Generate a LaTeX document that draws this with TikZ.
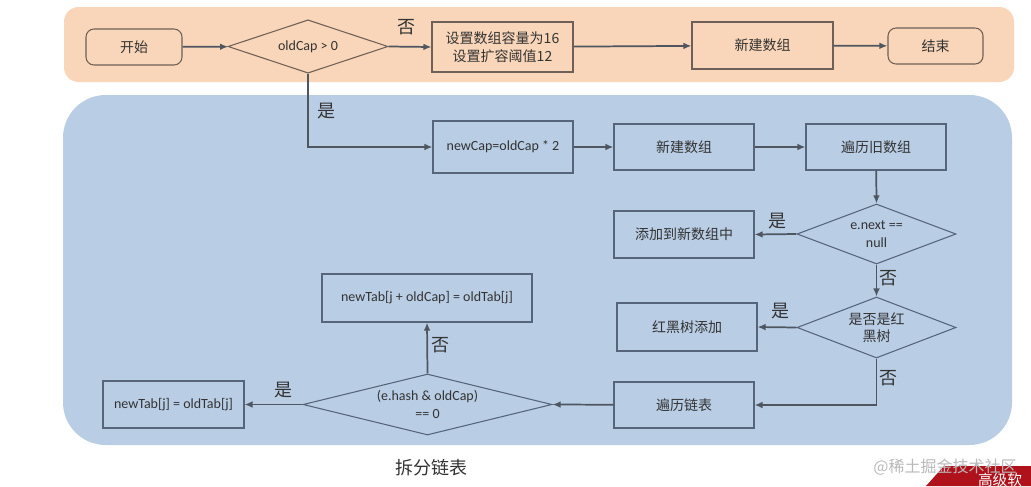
\documentclass[tikz,border=0pt]{standalone}
\usepackage{fontspec}
\setmainfont{Carlito}
\newfontfamily\cjk{Noto Sans CJK SC}
\usetikzlibrary{shapes.geometric,arrows.meta}
\definecolor{orangebg}{HTML}{F9D6B9}
\definecolor{bluebg}{HTML}{B9CDE5}
\definecolor{obord}{HTML}{6E6058}
\definecolor{bbord}{HTML}{56657A}
\definecolor{arr}{HTML}{4F5660}
\definecolor{txt}{HTML}{333333}
\definecolor{logored}{HTML}{B0121B}
\begin{document}
\begin{tikzpicture}[x=0.75pt,y=-0.75pt,
  every node/.style={text=txt,font=\fontsize{10.5}{13}\selectfont},
  obox/.style={draw=obord,line width=0.8pt,fill=orangebg,align=center,inner sep=0pt},
  oround/.style={obox,rounded corners=6pt},
  bbox/.style={draw=bbord,line width=0.8pt,fill=bluebg,align=center,inner sep=0pt},
  odia/.style={draw=obord,line width=0.8pt,fill=orangebg,diamond,inner sep=0pt,align=center},
  bdia/.style={draw=bbord,line width=0.8pt,fill=bluebg,diamond,inner sep=0pt,align=center},
  flow/.style={draw=arr,line width=1.3pt,-{Latex[length=6pt,width=5pt]}},
  lbl/.style={font=\cjk\fontsize{13.5}{15}\selectfont,text=txt}]
\useasboundingbox (0,0) rectangle (1031,486);
\fill[white] (0,0) rectangle (1031,486);
% backgrounds
\fill[orangebg,rounded corners=11pt] (64,7) rectangle (1014,82);
\fill[bluebg,rounded corners=32pt] (63,95) rectangle (1012,445);
% top row
\node[oround,minimum width=72pt,minimum height=27pt] (start) at (134,47) {\cjk 开始};
\node[odia,minimum width=120pt,minimum height=40pt,aspect=3] (d1) at (308,46.5) {oldCap > 0};
\node[obox,minimum width=105.75pt,minimum height=37.5pt] (set) at (502.5,47) {\cjk 设置数组容量为16\\\cjk 设置扩容阈值12};
\node[obox,minimum width=105.75pt,minimum height=35.25pt] (new1) at (762.5,45.5) {\cjk 新建数组};
\node[oround,minimum width=71.25pt,minimum height=27pt] (end) at (935.5,46) {\cjk 结束};
% blue area
\node[bbox,minimum width=105pt,minimum height=39pt] (cap) at (503,147) {newCap=oldCap * 2};
\node[bbox,minimum width=105pt,minimum height=34.5pt] (new2) at (684,147) {\cjk 新建数组};
\node[bbox,minimum width=105pt,minimum height=34.5pt] (trav) at (876,147) {\cjk 遍历旧数组};
\node[bdia,minimum width=119.25pt,minimum height=45pt,aspect=2.65] (dnext) at (876.5,234) {e.next ==\\null};
\node[bbox,minimum width=105pt,minimum height=35.25pt] (add) at (684,234.5) {\cjk 添加到新数组中};
\node[bdia,minimum width=119.25pt,minimum height=45.75pt,aspect=2.6] (drb) at (876.5,327.5) {\cjk 是否是红\\\cjk 黑树};
\node[bbox,minimum width=105pt,minimum height=36pt] (rb) at (687,327) {\cjk 红黑树添加};
\node[bbox,minimum width=105pt,minimum height=34.5pt] (list) at (684,405) {\cjk 遍历链表};
\node[bdia,minimum width=186.75pt,minimum height=45.75pt,aspect=4] (dhash) at (427.5,404.5) {(e.hash \& oldCap)\\== 0};
\node[bbox,minimum width=157.5pt,minimum height=36pt] (hi) at (427,298) {newTab[j + oldCap] = oldTab[j]};
\node[bbox,minimum width=105.75pt,minimum height=35.25pt] (lo) at (173.5,404.5) {newTab[j] = oldTab[j]};
% connectors
\draw[flow] (start) -- (d1);
\draw[flow] (d1.east) -- (set.west);
\draw[flow] (set) -- (new1);
\draw[flow] (new1) -- (end);
\draw[flow] (d1.south) |- (cap.west);
\draw[flow] (cap) -- (new2);
\draw[flow] (new2) -- (trav);
\draw[flow] (trav) -- (dnext.north);
\draw[flow] (dnext.west) -- (add.east);
\draw[flow] (dnext.south) -- (drb.north);
\draw[flow] (drb.west) -- (rb.east);
\draw[flow] (drb.south) |- (list.east);
\draw[flow] (list) -- (dhash.east);
\draw[flow] (dhash.north) -- (hi.south);
\draw[flow] (dhash.west) -- (lo.east);
% labels
\node[lbl] (l1) at (406,27) {否};
\node[lbl] (l2) at (326,111) {是};
\node[lbl] (l3) at (777,221) {是};
\node[lbl] (l4) at (888,278) {否};
\node[lbl] (l5) at (780,311) {是};
\node[lbl] (l6) at (888,378) {否};
\node[lbl] (l7) at (440,345) {否};
\node[lbl] (l8) at (283,390) {是};
\node[lbl] (title) at (431,468) {拆分链表};
% corner logo and watermark
\fill[logored] (926,486) -- (944,466) -- (1031,466) -- (1031,486) -- cycle;
\node[font=\cjk\fontsize{11}{12}\selectfont,text=white] (logo) at (1000,480) {高级软};
\node[font=\cjk\fontsize{12}{13}\selectfont,text=gray!55] (wm) at (945,467) {@稀土掘金技术社区};
\end{tikzpicture}
\end{document}
